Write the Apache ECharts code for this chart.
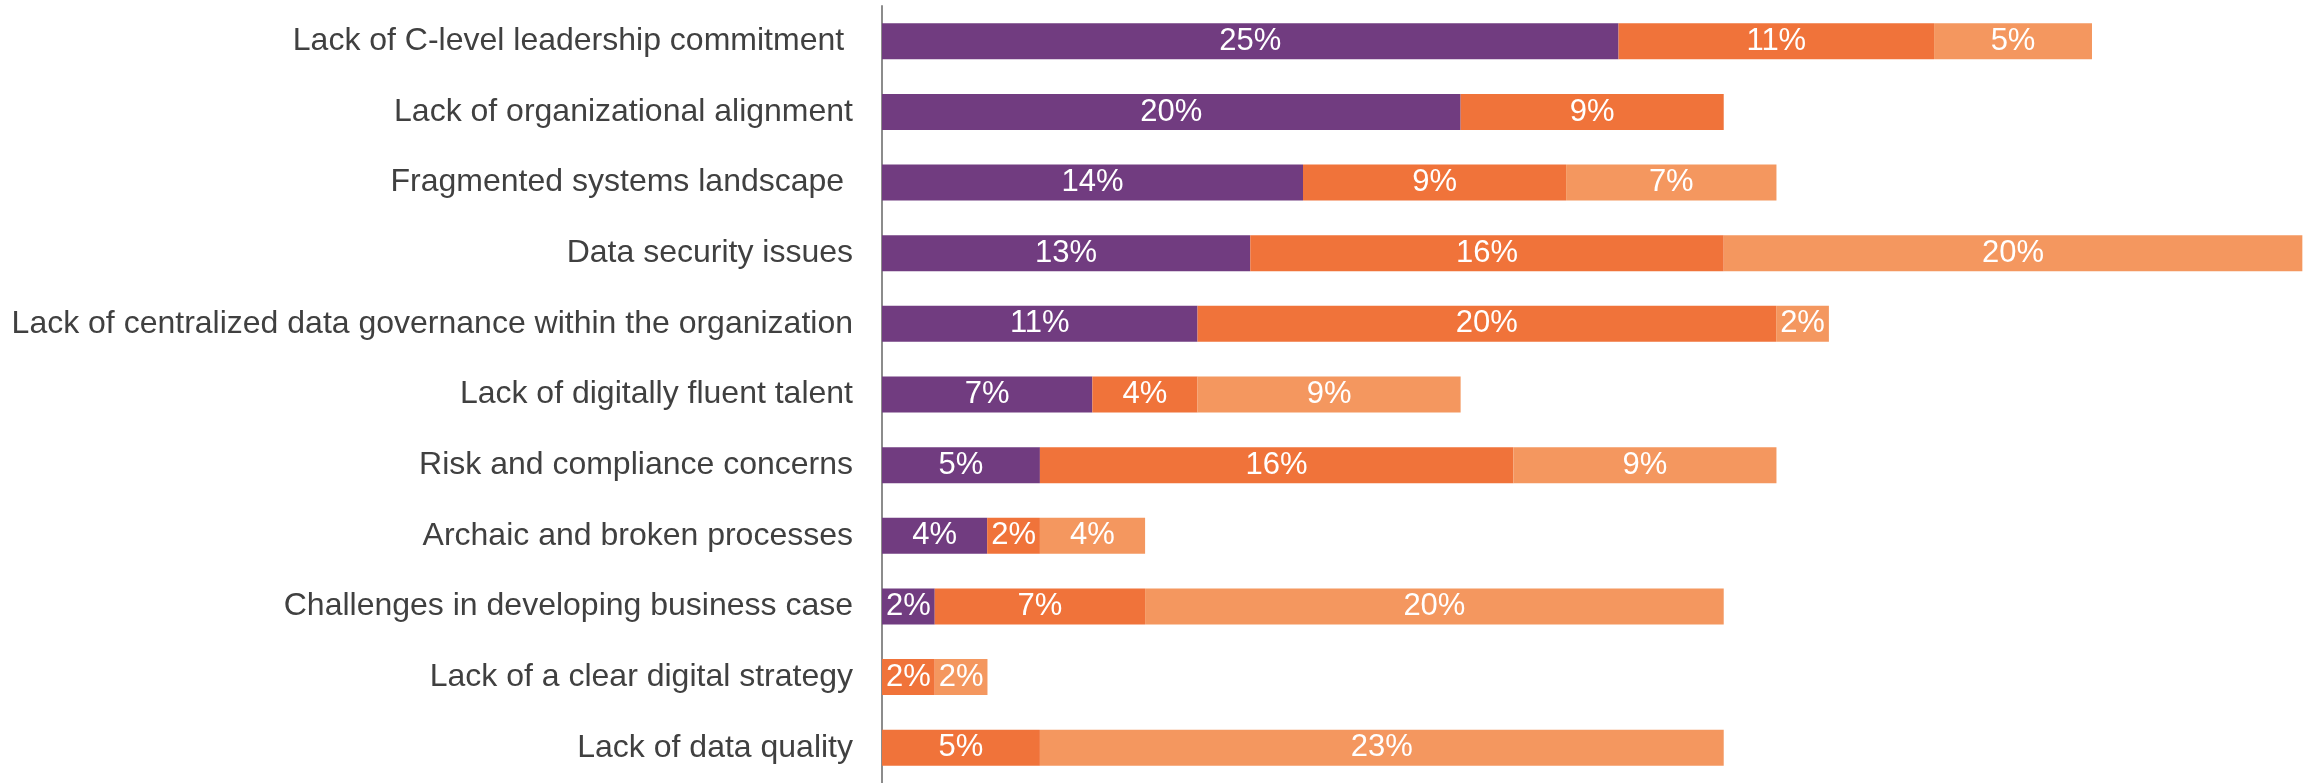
<!DOCTYPE html>
<html>
<head>
<meta charset="utf-8">
<script src="https://cdn.jsdelivr.net/npm/echarts@6/dist/echarts.min.js"></script>
<style>
html,body{margin:0;padding:0;background:#fff;}
#chart{width:2305px;height:783px;}
</style>
</head>
<body>
<div id="chart"></div>
<script>
const categories = [
  "Lack of C-level leadership commitment ",
  "Lack of organizational alignment",
  "Fragmented systems landscape ",
  "Data security issues",
  "Lack of centralized data governance within the organization",
  "Lack of digitally fluent talent",
  "Risk and compliance concerns",
  "Archaic and broken processes",
  "Challenges in developing business case",
  "Lack of a clear digital strategy",
  "Lack of data quality"
];
// estimated percentages (labels show rounded values)
const seriesPurple = [25.0, 19.64, 14.29, 12.5, 10.71, 7.14, 5.36, 3.57, 1.79, 0, 0];
const seriesOrange = [10.71, 8.93, 8.93, 16.07, 19.64, 3.57, 16.07, 1.79, 7.14, 1.79, 5.36];
const seriesLight  = [5.36, 0, 7.14, 19.64, 1.79, 8.93, 8.93, 3.57, 19.64, 1.79, 23.21];

const colors = ['#713C80', '#F0733A', '#F4975F'];
const font = '"Liberation Sans", Arial, sans-serif';

function mk(name, data, color) {
  return {
    name: name,
    type: 'bar',
    stack: 'total',
    data: data,
    barWidth: 36,
    itemStyle: { color: color },
    label: {
      show: true,
      position: 'inside',
      color: '#ffffff',
      fontSize: 31,
      fontFamily: font,
      formatter: p => p.value > 0 ? Math.round(p.value) + '%' : ''
    },
    emphasis: { disabled: true }
  };
}

const chart = echarts.init(document.getElementById('chart'), null, { renderer: 'canvas' });
chart.setOption({
  animation: false,
  grid: { left: 882, top: 6, width: 1423, height: 784, containLabel: false },
  xAxis: {
    type: 'value', min: 0, max: 48.3,
    show: false
  },
  yAxis: {
    type: 'category',
    data: categories,
    inverse: true,
    axisTick: { show: false },
    axisLine: { show: true, lineStyle: { color: '#8C8C8C', width: 2 } },
    axisLabel: { color: '#404040', fontSize: 32, fontFamily: font, margin: 29 },
    splitLine: { show: false }
  },
  series: [
    mk('A', seriesPurple, colors[0]),
    mk('B', seriesOrange, colors[1]),
    mk('C', seriesLight, colors[2])
  ]
});
</script>
</body>
</html>
